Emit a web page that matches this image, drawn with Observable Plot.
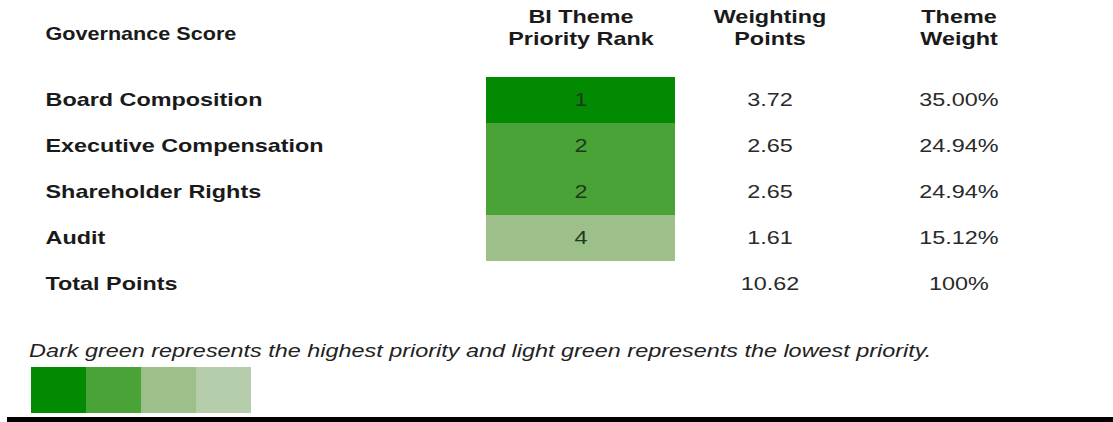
<!DOCTYPE html>
<html>
<head>
<meta charset="utf-8">
<script src="https://cdn.jsdelivr.net/npm/d3@7"></script>
<script src="https://cdn.jsdelivr.net/npm/@observablehq/plot@0.6"></script>
<style>
  body { margin: 0; background: #fff; font-family: "Liberation Sans", Arial, sans-serif; }
  #chart { position: absolute; left: 0; top: 0; }
  #note { position: absolute; left: 29px; top: 341px; font-size: 18px; line-height: 20px; font-style: italic;
          color: #222; white-space: nowrap; transform: scaleX(1.3); transform-origin: 0 0; }
  #legend { position: absolute; left: 0; top: 360px; }
  #rule { position: absolute; left: 7px; top: 417px; width: 1106px; height: 5px; background: #000; }
</style>
</head>
<body>
<div id="chart"></div>
<div id="note"></div>
<div id="legend"></div>
<div id="rule"></div>
<script>
// ---- data ----
const labelHeader = "Governance Score";
const columns = ["BI Theme\nPriority Rank", "Weighting\nPoints", "Theme\nWeight"];
const themes = ["Board Composition", "Executive Compensation", "Shareholder Rights", "Audit"];
const ranks = [1, 2, 2, 4];
const weightingPoints = [3.72, 2.65, 2.65, 1.61];
const themeWeights = [35.00, 24.94, 24.94, 15.12];
const totalLabel = "Total Points";
const totalPoints = 10.62;
const totalWeight = 100;
const rankDomain = [1, 2, 4];
const legendTiers = [1, 2, 3, 4];
const legendColors = ["#038a03", "#4aa336", "#9dbf89", "#b6cdab"];
const noteText = "Dark green represents the highest priority and light green represents the lowest priority.";

// ---- table built from arrays ----
const rows = themes.map((t, i) => ({theme: t, rank: ranks[i], points: weightingPoints[i], weight: themeWeights[i]}));
const rowDomain = [...themes, totalLabel];
const totals = [{theme: totalLabel, points: totalPoints, weight: totalWeight}];

const font = "'Liberation Sans', Arial, sans-serif";
const chart = Plot.plot({
  width: 1113,
  height: 340,
  marginLeft: 45,
  marginRight: 0,
  marginTop: 76,
  marginBottom: 31.5,
  style: {fontFamily: font, fontSize: "18px", background: "#fff", overflow: "visible"},
  x: {type: "band", domain: columns, range: [485.5, 1052.5], padding: 0, axis: null},
  y: {type: "band", domain: rowDomain, padding: 0, axis: null},
  color: {type: "ordinal", domain: rankDomain, range: legendColors.slice(0, 3)},
  marks: [
    Plot.cell(rows, {x: () => columns[0], y: "theme", fill: "rank", inset: 0}),
    // headers
    Plot.text([labelHeader], {frameAnchor: "top-left", text: d => d, textAnchor: "start", lineAnchor: "top",
      dy: -49.5, fontWeight: "bold", fontSize: 18, fill: "#1a1a1a"}),
    Plot.text(columns, {x: d => d, frameAnchor: "top", text: d => d, lineAnchor: "top", lineHeight: 1.23,
      dy: -69.5, fontWeight: "bold", fontSize: 18, fill: "#1a1a1a"}),
    // row labels
    Plot.text([...rows, ...totals], {y: "theme", frameAnchor: "left", text: "theme", textAnchor: "start",
      fontWeight: "bold", fontSize: 18, fill: "#1a1a1a"}),
    // ranks
    Plot.text(rows, {x: () => columns[0], y: "theme", text: d => String(d.rank), fontSize: 18, fill: "#1c3a1c"}),
    // weighting points
    Plot.text([...rows, ...totals], {x: () => columns[1], y: "theme", text: d => d.points.toFixed(2), fontSize: 18, fill: "#2a2a2a"}),
    // theme weight
    Plot.text(rows, {x: () => columns[2], y: "theme", text: d => d.weight.toFixed(2) + "%", fontSize: 18, fill: "#2a2a2a"}),
    Plot.text(totals, {x: () => columns[2], y: "theme", text: d => d.weight + "%", fontSize: 18, fill: "#2a2a2a"})
  ]
});

// horizontal stretch of the text as in the reference
d3.select(chart).selectAll("text").each(function () {
  const t = this.getAttribute("transform") || "";
  const s = this.textContent === labelHeader ? 1.2 : 1.3;
  this.setAttribute("transform", t + ` scale(${s},1)`);
});
document.getElementById("chart").append(chart);

document.getElementById("note").textContent = noteText;

const legend = Plot.plot({
  width: 1113,
  height: 55,
  marginTop: 7,
  marginBottom: 2,
  marginLeft: 0,
  marginRight: 0,
  style: {background: "transparent"},
  x: {type: "band", domain: legendTiers, range: [29, 252], padding: 0, axis: null},
  color: {type: "identity"},
  marks: [
    Plot.cell(legendTiers, {x: d => d, fill: (d, i) => legendColors[i], inset: 0})
  ]
});
document.getElementById("legend").append(legend);
</script>
</body>
</html>
